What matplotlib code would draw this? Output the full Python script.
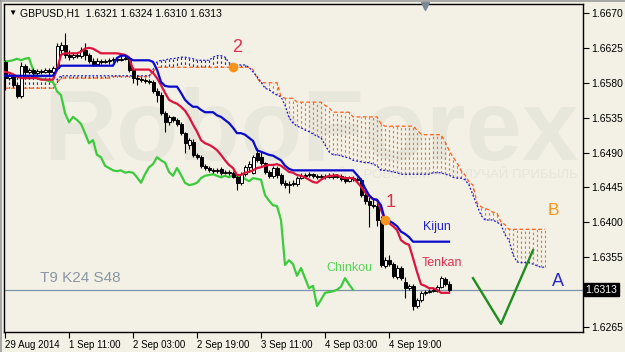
import numpy as np
import matplotlib.pyplot as plt
from matplotlib.lines import Line2D
from matplotlib.transforms import blended_transform_factory

plt.rcParams['font.family'] = ['Liberation Sans', 'DejaVu Sans']

# ----------------------------------------------------------------------------
# Data: GBPUSD H1, Ichimoku (T9 K24 S48)
# ----------------------------------------------------------------------------
TIME_LABELS = ['29 Aug 2014', '1 Sep 11:00', '2 Sep 03:00', '2 Sep 19:00',
               '3 Sep 11:00', '4 Sep 03:00', '4 Sep 19:00']
TIME_TICKS = [0, 16, 32, 48, 64, 80, 96]
PRICE_TICKS = [1.6265, 1.6355, 1.6400, 1.6445, 1.6490, 1.6535, 1.6580, 1.6625, 1.6670]
LAST_PRICE = 1.6313
CHINKOU_SHIFT = 24

opens = [
    1.6607, 1.6586, 1.6588, 1.6577, 1.6563, 1.6602, 1.6594, 1.6597, 1.6593, 1.6595,
    1.6594, 1.6597, 1.6594, 1.6599, 1.6622, 1.6629, 1.6616, 1.6613, 1.6616, 1.6615,
    1.6622, 1.6616, 1.6608, 1.6604, 1.6608, 1.6607, 1.6608, 1.6609, 1.6611, 1.6609,
    1.6611, 1.6612, 1.6597, 1.6586, 1.6585, 1.6584, 1.6582, 1.6581, 1.6569, 1.6564,
    1.6541, 1.6529, 1.6536, 1.6532, 1.6527, 1.6515, 1.6500, 1.6504, 1.6487, 1.6484,
    1.6473, 1.6470, 1.6467, 1.6466, 1.6469, 1.6464, 1.6465, 1.6464, 1.6458, 1.6451,
    1.6462, 1.6471, 1.6464, 1.6489, 1.6484, 1.6477, 1.6465, 1.6460, 1.6470, 1.6461,
    1.6451, 1.6448, 1.6449, 1.6449, 1.6457, 1.6460, 1.6461, 1.6462, 1.6460, 1.6458,
    1.6460, 1.6458, 1.6461, 1.6458, 1.6460, 1.6456, 1.6453, 1.6457, 1.6456, 1.6455,
    1.6435, 1.6428, 1.6422, 1.6421, 1.6403, 1.6344, 1.6351, 1.6346, 1.6329, 1.6341,
    1.6323, 1.6315, 1.6318, 1.6292, 1.6300, 1.6309, 1.6310, 1.6311, 1.6311, 1.6317,
    1.6327, 1.6321]
highs = [
    1.6609, 1.6594, 1.6591, 1.6580, 1.6607, 1.6604, 1.6599, 1.6599, 1.6598, 1.6598,
    1.6599, 1.6599, 1.6602, 1.6631, 1.6633, 1.6644, 1.6622, 1.6620, 1.6620, 1.6626,
    1.6631, 1.6618, 1.6612, 1.6612, 1.6611, 1.6611, 1.6612, 1.6613, 1.6613, 1.6616,
    1.6616, 1.6613, 1.6600, 1.6590, 1.6588, 1.6586, 1.6585, 1.6584, 1.6573, 1.6568,
    1.6544, 1.6538, 1.6537, 1.6535, 1.6529, 1.6517, 1.6509, 1.6508, 1.6489, 1.6487,
    1.6475, 1.6473, 1.6470, 1.6470, 1.6471, 1.6467, 1.6467, 1.6466, 1.6461, 1.6465,
    1.6474, 1.6479, 1.6487, 1.6496, 1.6491, 1.6478, 1.6467, 1.6473, 1.6473, 1.6464,
    1.6455, 1.6453, 1.6455, 1.6460, 1.6464, 1.6464, 1.6465, 1.6464, 1.6462, 1.6462,
    1.6462, 1.6464, 1.6464, 1.6462, 1.6462, 1.6460, 1.6460, 1.6460, 1.6458, 1.6457,
    1.6439, 1.6433, 1.6430, 1.6429, 1.6408, 1.6355, 1.6358, 1.6349, 1.6345, 1.6344,
    1.6329, 1.6320, 1.6320, 1.6302, 1.6311, 1.6313, 1.6314, 1.6315, 1.6319, 1.6331,
    1.6329, 1.6324]
lows = [
    1.6571, 1.6584, 1.6575, 1.6560, 1.6560, 1.6590, 1.6591, 1.6589, 1.6590, 1.6591,
    1.6593, 1.6590, 1.6591, 1.6597, 1.6618, 1.6612, 1.6609, 1.6611, 1.6612, 1.6612,
    1.6609, 1.6606, 1.6602, 1.6603, 1.6604, 1.6606, 1.6604, 1.6607, 1.6607, 1.6608,
    1.6609, 1.6594, 1.6580, 1.6577, 1.6581, 1.6580, 1.6578, 1.6567, 1.6555, 1.6538,
    1.6517, 1.6526, 1.6529, 1.6524, 1.6513, 1.6489, 1.6495, 1.6484, 1.6482, 1.6470,
    1.6467, 1.6465, 1.6464, 1.6464, 1.6461, 1.6462, 1.6461, 1.6457, 1.6442, 1.6448,
    1.6460, 1.6465, 1.6462, 1.6478, 1.6474, 1.6462, 1.6457, 1.6457, 1.6457, 1.6448,
    1.6444, 1.6438, 1.6447, 1.6447, 1.6456, 1.6457, 1.6458, 1.6457, 1.6456, 1.6456,
    1.6456, 1.6457, 1.6456, 1.6457, 1.6453, 1.6451, 1.6452, 1.6453, 1.6452, 1.6433,
    1.6424, 1.6394, 1.6418, 1.6395, 1.6342, 1.6341, 1.6344, 1.6328, 1.6327, 1.6325,
    1.6302, 1.6313, 1.6287, 1.6290, 1.6297, 1.6306, 1.6309, 1.6310, 1.6310, 1.6315,
    1.6318, 1.6310]
closes = [
    1.6586, 1.6589, 1.6577, 1.6563, 1.6602, 1.6594, 1.6597, 1.6593, 1.6595, 1.6594,
    1.6597, 1.6594, 1.6599, 1.6628, 1.6629, 1.6616, 1.6613, 1.6616, 1.6615, 1.6622,
    1.6616, 1.6608, 1.6604, 1.6608, 1.6607, 1.6608, 1.6609, 1.6611, 1.6609, 1.6611,
    1.6612, 1.6597, 1.6586, 1.6585, 1.6584, 1.6582, 1.6581, 1.6569, 1.6564, 1.6541,
    1.6529, 1.6536, 1.6532, 1.6527, 1.6515, 1.6502, 1.6506, 1.6487, 1.6484, 1.6473,
    1.6470, 1.6467, 1.6466, 1.6467, 1.6464, 1.6465, 1.6464, 1.6458, 1.6451, 1.6462,
    1.6471, 1.6475, 1.6484, 1.6480, 1.6477, 1.6465, 1.6460, 1.6470, 1.6461, 1.6451,
    1.6448, 1.6449, 1.6451, 1.6457, 1.6460, 1.6461, 1.6462, 1.6460, 1.6458, 1.6460,
    1.6458, 1.6461, 1.6458, 1.6460, 1.6456, 1.6453, 1.6457, 1.6456, 1.6455, 1.6435,
    1.6428, 1.6422, 1.6421, 1.6403, 1.6345, 1.6351, 1.6346, 1.6331, 1.6341, 1.6328,
    1.6315, 1.6318, 1.6292, 1.6300, 1.6309, 1.6310, 1.6311, 1.6313, 1.6317, 1.6328,
    1.6320, 1.6313]

tenkan = [
    1.6594, 1.6593, 1.6591, 1.6588, 1.6586, 1.6586, 1.6586, 1.6586, 1.6586,
    1.6584, 1.6584, 1.6584, 1.6584, 1.6597, 1.6616, 1.6618, 1.6618, 1.6618, 1.6618, 1.6620,
    1.6624, 1.6625, 1.6624, 1.6621, 1.6618, 1.6618, 1.6618, 1.6618, 1.6618, 1.6617,
    1.6616, 1.6613, 1.6597, 1.6597, 1.6597, 1.6597, 1.6597, 1.6593, 1.6586, 1.6577,
    1.6567, 1.6558, 1.6555, 1.6553, 1.6549, 1.6544, 1.6536, 1.6526, 1.6517, 1.6506,
    1.6502, 1.6500, 1.6497, 1.6493, 1.6487, 1.6480, 1.6474, 1.6470, 1.6461, 1.6461,
    1.6464, 1.6465, 1.6467, 1.6470, 1.6471, 1.6473, 1.6474, 1.6474, 1.6475, 1.6473,
    1.6469, 1.6465, 1.6464, 1.6461, 1.6460, 1.6458, 1.6455, 1.6452, 1.6451, 1.6455,
    1.6458, 1.6460, 1.6460, 1.6461, 1.6458, 1.6457, 1.6457, 1.6457, 1.6452, 1.6446,
    1.6439, 1.6434, 1.6430, 1.6429, 1.6416, 1.6403, 1.6399, 1.6395, 1.6390, 1.6377,
    1.6373, 1.6371, 1.6354, 1.6336, 1.6320, 1.6318, 1.6315, 1.6315, 1.6313, 1.6309,
    1.6309, 1.6309]

kijun = ([1.6589] * 13 + [1.6597] + [1.6602] * 14 +
         [1.6612, 1.6615, 1.6615, 1.6612] + [1.6609] * 5 +
         [1.6607, 1.6597, 1.6581, 1.6576] + [1.6575] * 3 +
         [1.6567, 1.6558, 1.6553, 1.6549, 1.6549, 1.6545] + [1.6542] * 3 +
         [1.6538, 1.6536, 1.6532, 1.6528, 1.6522, 1.6515, 1.6515, 1.6513, 1.6509,
          1.6505, 1.6493, 1.6491, 1.6489, 1.6487, 1.6486, 1.6483, 1.6480, 1.6473,
          1.6469] + [1.6467] * 16 +
         [1.6461, 1.6455, 1.6444, 1.6435, 1.6430, 1.6429, 1.6422, 1.6403, 1.6402,
          1.6399, 1.6395, 1.6388, 1.6385, 1.6381] + [1.6375] * 10)

# Senkou span A (blue dotted) and span B (orange dashed), 24 bars ahead
span_a = ([1.6588] * 13 + [1.6584] + [1.6589] * 23 +
          [1.6597, 1.6607, 1.6609, 1.6609, 1.6611, 1.6611, 1.6612, 1.6613, 1.6613,
           1.6612, 1.6611, 1.6609, 1.6609, 1.6609, 1.6609, 1.6613, 1.6615, 1.6615,
           1.6613, 1.6606, 1.6603, 1.6603, 1.6603, 1.6603, 1.6600, 1.6594, 1.6588,
           1.6581, 1.6573, 1.6571, 1.6567, 1.6564, 1.6562, 1.6551, 1.6535, 1.6528,
           1.6524, 1.6522, 1.6519, 1.6517, 1.6514, 1.6511, 1.6509, 1.6500, 1.6491,
           1.6487, 1.6487, 1.6486, 1.6484, 1.6483, 1.6480, 1.6479, 1.6478, 1.6477,
           1.6477, 1.6475, 1.6473, 1.6467, 1.6467, 1.6466, 1.6465, 1.6464] +
          [1.6462] * 8 + [1.6464] * 3 +
          [1.6462, 1.6461, 1.6458, 1.6457, 1.6457, 1.6455, 1.6448, 1.6435, 1.6422,
           1.6409, 1.6403, 1.6403, 1.6403, 1.6400, 1.6397, 1.6384, 1.6377, 1.6358,
           1.6349, 1.6348, 1.6348, 1.6348, 1.6346, 1.6344, 1.6342, 1.6342])
span_b = ([1.6573] * 13 + [1.6580] + [1.6586] * 13 + [1.6588] * 10 + [1.6594] +
          [1.6600] * 24 + [1.6597, 1.6586] + [1.6580] * 5 + [1.6562] +
          [1.6560] * 3 + [1.6555] * 7 + [1.6551, 1.6548] + [1.6542] * 5 +
          [1.6536] * 7 + [1.6527] + [1.6524] * 8 + [1.6519, 1.6514] +
          [1.6513] * 5 +
          [1.6504, 1.6493, 1.6484, 1.6477, 1.6467, 1.6461, 1.6452, 1.6448, 1.6425,
           1.6420, 1.6418, 1.6416, 1.6413, 1.6412, 1.6400, 1.6397] + [1.6391] * 10)

# hand-drawn forecast "V" (bar index, price)
fc_x = [117, 124, 132]
fc_y = [1.6328, 1.6269, 1.6364]

# ----------------------------------------------------------------------------
# Style
# ----------------------------------------------------------------------------
BG = '#F3F1E5'
TENKAN_C = '#DC143C'
KIJUN_C = '#0A0ACD'
CHINKOU_C = '#3CCB3C'
SPAN_A_C = '#1A1AD8'
SPAN_B_C = '#FF5E1A'
HATCH_B_C = '#FF6A2A'
HLINE_C = '#7C93AA'

fig = plt.figure(figsize=(6.25, 3.52), dpi=100, facecolor=BG)
ax = fig.add_axes([4 / 625, 20 / 352, 579 / 625, 328 / 352], facecolor=BG)
ax.set_xlim(-0.25, 144.5)
ax.set_ylim(1.62585, 1.66816)

# watermark
ax.text(311 / 625, 1 - 160 / 352, 'RoboForex', transform=fig.transFigure,
        fontsize=73, fontweight='bold', color='#E8E7DC', ha='center',
        va='baseline', zorder=0)
ax.text(578 / 625, 1 - 175 / 352, 'ТОРГУЙ С РОБОТОМ – ПОЛУЧАЙ ПРИБЫЛЬ',
        transform=fig.transFigure, fontsize=9.5, color='#E6E5DA',
        ha='right', va='center', zorder=0)

# cloud hatch + spans
sa = np.array(span_a)
sb = np.array(span_b)
xc = np.arange(len(sa))
hatch_c = np.where(sb > sa, HATCH_B_C, SPAN_A_C)
ax.vlines(xc, sa, sb, colors=hatch_c, lw=0.8, linestyles=(0, (2.2, 2.2)), zorder=1)
ax.plot(xc, sb, color=SPAN_B_C, lw=0.9, ls=(0, (3, 2)), zorder=2)
ax.plot(xc, sa, color=SPAN_A_C, lw=0.9, ls=(0, (1.5, 1.5)), zorder=2)

ax.axhline(LAST_PRICE, color=HLINE_C, lw=0.9, zorder=2)

# chinkou: closes drawn 24 bars back
c = np.array(closes)
xb = np.arange(len(c))
ax.plot(xb[:len(c) - CHINKOU_SHIFT], c[CHINKOU_SHIFT:], color=CHINKOU_C, lw=1.6, zorder=3)

# candles
o = np.array(opens)
ax.vlines(xb, lows, highs, color='black', lw=0.8, zorder=4)
up = c >= o
ax.bar(xb, np.abs(c - o), bottom=np.minimum(o, c), width=0.75,
       color=np.where(up, 'white', 'black'), edgecolor='black', lw=0.7, zorder=5)

ax.plot(xb, tenkan, color=TENKAN_C, lw=1.6, zorder=6)
ax.plot(xb, kijun, color=KIJUN_C, lw=1.6, zorder=6)

# markers 1 / 2
ax.plot(57, span_b[57], 'o', color='#F7941D', ms=6, zorder=7)
ax.plot(95, kijun[95], 'o', color='#F7941D', ms=6, zorder=7)
ax.text(58, 1.6625, '2', color='#E0304F', fontsize=13, ha='center', va='center', zorder=8)
ax.text(96.3, 1.6426, '1', color='#E0304F', fontsize=13, ha='center', va='center', zorder=8)

ax.text(108, 1.6394, 'Kijun', color='#2222D0', fontsize=9, ha='center', va='center', zorder=8)
ax.text(109.3, 1.6348, 'Tenkan', color='#E0304F', fontsize=9, ha='center', va='center', zorder=8)
ax.text(86, 1.6341, 'Chinkou', color='#55D455', fontsize=9, ha='center', va='center', zorder=8)
ax.text(8.8, 1.6328, 'T9 K24 S48', color='#8A97A6', fontsize=11, ha='left', va='center', zorder=8)
ax.text(137, 1.6415, 'B', color='#F7941D', fontsize=12.5, ha='center', va='center', zorder=8)
ax.text(138.3, 1.6324, 'A', color='#2828C8', fontsize=13, ha='center', va='center', zorder=8)

ax.plot(fc_x, fc_y, color='#1E8C1E', lw=1.7, zorder=7)

# axes look (MT4 style)
ax.yaxis.tick_right()
ax.set_yticks(PRICE_TICKS)
ax.set_yticklabels([f'{p:.4f}' for p in PRICE_TICKS])
ax.set_xticks(TIME_TICKS)
ax.set_xticklabels(TIME_LABELS)
for lbl in ax.get_xticklabels():
    lbl.set_horizontalalignment('left')
ax.tick_params(axis='y', direction='out', length=4, width=0.8, pad=2, labelsize=7.5)
ax.tick_params(axis='x', direction='out', length=4, width=0.8, pad=2, labelsize=7)
for s in ax.spines.values():
    s.set_linewidth(1.0)
    s.set_color('black')

tr = blended_transform_factory(ax.transAxes, ax.transData)
ax.text(1.004, LAST_PRICE, '1.6313', transform=tr, color='white', fontsize=7.5,
        ha='left', va='center', zorder=9,
        bbox=dict(facecolor='black', edgecolor='black', pad=1.2))

# header line
fig.text(12 / 625, 1 - 13 / 352, '▼', fontsize=6, color='black', va='center', ha='center')
fig.text(20 / 625, 1 - 13 / 352, 'GBPUSD,H1  1.6321 1.6324 1.6310 1.6313',
         fontsize=7.5, color='black', va='center', ha='left')
# chart shift marker
ax.plot([425 / 625], [1 - 6 / 352], marker='v', color='#7A8896', ms=6,
        transform=fig.transFigure, clip_on=False, zorder=9)

# window frame (top / left edges)
fig.add_artist(Line2D([0, 1], [1 - 0.5 / 352, 1 - 0.5 / 352], color='#9A9A9A', lw=1.2))
fig.add_artist(Line2D([0.5 / 625, 0.5 / 625], [0, 1], color='#9A9A9A', lw=1.2))

fig.savefig('out.png', dpi=100, facecolor=BG)
